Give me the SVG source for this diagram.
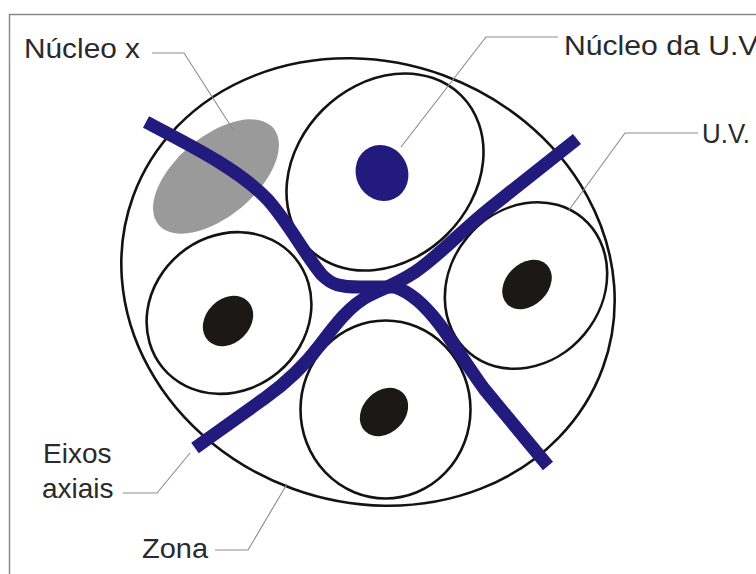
<svg xmlns="http://www.w3.org/2000/svg" width="756" height="574" viewBox="0 0 756 574">
  <style>
    .outline { fill: none; stroke: #151212; stroke-width: 2.6; }
    .axis { fill: none; stroke: #221a7c; stroke-width: 13; stroke-linejoin: round; stroke-linecap: butt; }
    .leader { fill: none; stroke: #8c8c8c; stroke-width: 1.1; }
    .label { font-family: "Liberation Sans", Arial, sans-serif; font-size: 28px; fill: #2a2a2a; }
    .nuc { fill: #1c1816; }
  </style>
  <rect x="0" y="0" width="756" height="574" fill="#ffffff"/>
  <path d="M9.5,574 V14.5 H756" fill="none" stroke="#8a8a8a" stroke-width="1.5"/>

  <g id="zona">
    <ellipse class="outline" cx="368" cy="282" rx="250" ry="220" transform="rotate(20 368 282)"/>
  </g>
  <g id="nucleo-x">
    <ellipse cx="216" cy="176.5" rx="75" ry="40" fill="#9b9a9a" transform="rotate(-40 216 176.5)"/>
  </g>

  <g id="uv-top">
    <ellipse class="outline" cx="385" cy="172" rx="108" ry="88" transform="rotate(-45 385 172)"/>
  </g>
  <g id="uv-left">
    <ellipse class="outline" cx="229" cy="313" rx="86" ry="77" transform="rotate(-40 229 313)"/>
  </g>
  <g id="uv-right">
    <ellipse class="outline" cx="526" cy="285.5" rx="88" ry="76" transform="rotate(-50 526 285.5)"/>
  </g>
  <g id="uv-bottom">
    <ellipse class="outline" cx="385.5" cy="409.5" rx="85" ry="89"/>
  </g>

  <g id="eixos-axiais">
    <path class="axis" d="M146,122 C190,145 240,170 268,200 C290,225 305,255 322,275 C332,285 340,287 360,287 L395,287 C410,292 425,305 440,325 C455,345 470,370 485,390 L548,466"/>
    <path class="axis" d="M195,448 L265,398 C290,380 305,365 320,345 C335,325 350,305 370,295 C385,288 400,282 415,272 C440,255 460,232 490,208 L577,139"/>
  </g>

  <g id="nucleo-uv-top">
    <ellipse cx="382" cy="173" rx="26" ry="28.5" fill="#221a7c" transform="rotate(-25 382 173)"/>
  </g>
  <g id="nucleo-uv-left">
    <ellipse class="nuc" cx="228" cy="321" rx="28" ry="22" transform="rotate(-45 228 321)"/>
  </g>
  <g id="nucleo-uv-right">
    <ellipse class="nuc" cx="527" cy="284.5" rx="28" ry="21" transform="rotate(-45 527 284.5)"/>
  </g>
  <g id="nucleo-uv-bottom">
    <ellipse class="nuc" cx="384" cy="412" rx="27" ry="21" transform="rotate(-45 384 412)"/>
  </g>

  <g id="connectors">
    <polyline class="leader" points="152,53 184,53 234,131"/>
    <polyline class="leader" points="558,37 486,37 401,147"/>
    <polyline class="leader" points="698,133 625,133 569,210"/>
    <polyline class="leader" points="123,493 157,493 190,453"/>
    <polyline class="leader" points="215,550 248,550 287,484"/>
  </g>

  <g id="label-nucleo-x"><text class="label" x="24" y="58" textLength="116" lengthAdjust="spacingAndGlyphs">Núcleo x</text></g>
  <g id="label-nucleo-uv"><text class="label" x="564" y="55" textLength="200" lengthAdjust="spacingAndGlyphs">Núcleo da U.V.</text></g>
  <g id="label-uv"><text class="label" x="702" y="143" textLength="48" lengthAdjust="spacingAndGlyphs">U.V.</text></g>
  <g id="label-eixos"><text class="label" x="43" y="463">Eixos</text><text class="label" x="42" y="498">axiais</text></g>
  <g id="label-zona"><text class="label" x="142" y="558" textLength="66" lengthAdjust="spacingAndGlyphs">Zona</text></g>
</svg>
